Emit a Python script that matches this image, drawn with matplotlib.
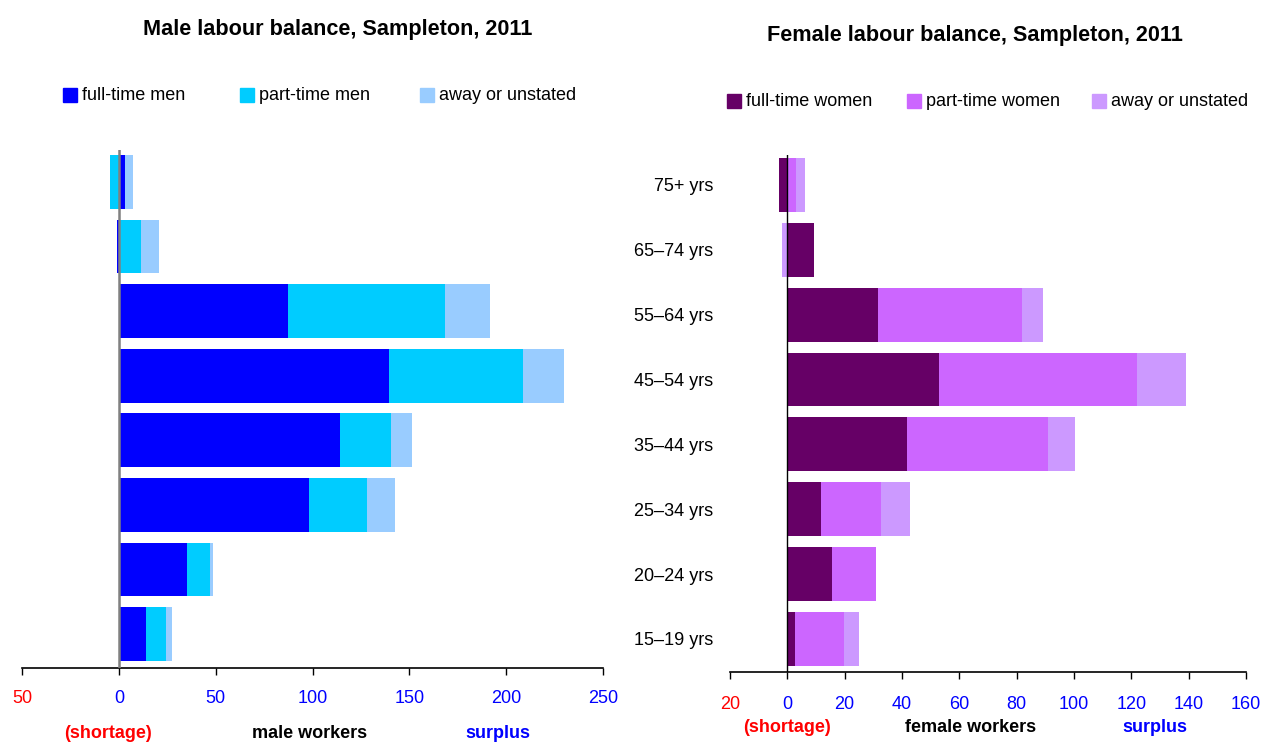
import matplotlib
matplotlib.use("Agg")
import matplotlib.pyplot as plt
from matplotlib.patches import Rectangle
from matplotlib.ticker import FuncFormatter
import numpy as np

plt.rcParams['font.family'] = ['Liberation Sans', 'DejaVu Sans']

ages = ['15–19 yrs', '20–24 yrs', '25–34 yrs', '35–44 yrs',
        '45–54 yrs', '55–64 yrs', '65–74 yrs', '75+ yrs']

# male balance (workers), bottom age group first
male_full = [13.9, 35.1, 98.1, 114.1, 139.4, 87.2, -0.7, 3.4]
male_part = [10.3, 11.9, 29.9, 26.3, 69.2, 81.0, 11.2, -4.8]
male_away = [3.1, 1.5, 14.5, 10.8, 21.2, 23.2, 9.4, 4.1]

female_full = [2.8, 15.7, 11.9, 41.9, 53.0, 31.7, 9.4, -2.9]
female_part = [17.1, 15.3, 20.9, 49.2, 69.0, 50.2, 0.0, 3.0]
female_away = [5.2, 0.0, 10.1, 9.1, 17.0, 7.3, -2.0, 3.2]

male_names = ['full-time men', 'part-time men', 'away or unstated']
female_names = ['full-time women', 'part-time women', 'away or unstated']
male_colors = ['#0000ff', '#00ccff', '#99ccff']
female_colors = ['#660066', '#cc66ff', '#cc99ff']

W, H = 1265, 743
fig = plt.figure(figsize=(W / 100, H / 100), dpi=100)


def px(x0, y0, x1, y1):
    # pixel box -> figure fraction rect
    return [x0 / W, 1 - y1 / H, (x1 - x0) / W, (y1 - y0) / H]


def stacked(ax, series, colors):
    y = np.arange(len(ages))
    pos = np.zeros(len(ages))
    neg = np.zeros(len(ages))
    for vals, c in zip(series, colors):
        vals = np.array(vals)
        left = np.where(vals >= 0, pos, neg)
        ax.barh(y, vals, left=left, height=0.83, color=c, linewidth=0)
        pos = pos + np.clip(vals, 0, None)
        neg = neg + np.clip(vals, None, 0)


def style_axis(ax, ticks, pad):
    ax.set_xlim(ticks[0], ticks[-1])
    ax.set_xticks(ticks)
    ax.xaxis.set_major_formatter(FuncFormatter(lambda v, p: f'{abs(v):g}'))
    ax.tick_params(axis='x', length=5, width=1, pad=pad, labelsize=13)
    for lab, t in zip(ax.get_xticklabels(), ticks):
        lab.set_color('#ff0000' if t < 0 else '#0000ff')
    for s in ['top', 'right', 'left']:
        ax.spines[s].set_visible(False)
    ax.spines['bottom'].set_linewidth(1.2)


# ---- male panel
axm = fig.add_axes(px(22, 150, 603, 668))
stacked(axm, [male_full, male_part, male_away], male_colors)
axm.axvline(0, color='#808080', lw=1.8, zorder=3)
style_axis(axm, [-50, 0, 50, 100, 150, 200, 250], 11)
axm.set_ylim(-0.526, 7.495)
axm.set_yticks([])

# ---- female panel
axf = fig.add_axes(px(730, 155, 1246, 672))
stacked(axf, [female_full, female_part, female_away], female_colors)
axf.axvline(0, color='black', lw=1, zorder=3)
style_axis(axf, [-20, 0, 20, 40, 60, 80, 100, 120, 140, 160], 12)
axf.set_ylim(-0.509, 7.46)
axf.set_yticks(np.arange(len(ages)))
axf.set_yticklabels(ages, fontsize=13)
axf.tick_params(axis='y', length=0, pad=12)

# titles
fig.text(338 / W, 1 - 30 / H, 'Male labour balance, Sampleton, 2011',
         ha='center', va='center', fontsize=15.6, fontweight='bold')
fig.text(975 / W, 1 - 35 / H, 'Female labour balance, Sampleton, 2011',
         ha='center', va='center', fontsize=15.6, fontweight='bold')

# legends
for names, colors, xs, yc in [(male_names, male_colors, [63, 240, 420], 95),
                              (female_names, female_colors, [727, 907, 1092], 101)]:
    for n, c, x in zip(names, colors, xs):
        fig.patches.append(Rectangle((x / W, 1 - (yc + 7) / H), 14 / W, 14 / H,
                                     transform=fig.transFigure, color=c))
        fig.text((x + 19) / W, 1 - yc / H, n, ha='left', va='center', fontsize=13)

# bottom captions
for x, y, s, c in [(108, 733, '(shortage)', '#ff0000'), (310, 733, 'male workers', 'black'),
                   (498, 733, 'surplus', '#0000ff'),
                   (787, 728, '(shortage)', '#ff0000'), (971, 728, 'female workers', 'black'),
                   (1155, 728, 'surplus', '#0000ff')]:
    fig.text(x / W, 1 - y / H, s, ha='center', va='center', fontsize=13,
             fontweight='bold', color=c)

fig.savefig('out.png', dpi=100)
